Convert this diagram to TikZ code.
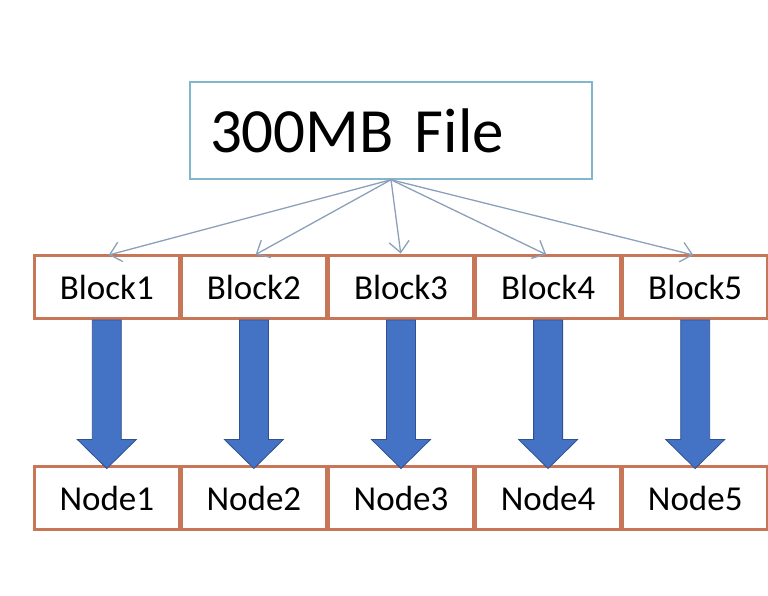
\documentclass[tikz,border=0pt]{standalone}
\usepackage{fontspec}
\setmainfont{Carlito}
\usetikzlibrary{matrix,arrows.meta,calc}

\definecolor{boxorange}{RGB}{200,118,88}
\definecolor{filecyan}{RGB}{130,182,205}
\definecolor{splitgray}{RGB}{140,160,185}
\definecolor{sendblue}{RGB}{68,114,196}
\definecolor{sendedge}{RGB}{47,82,143}

\begin{document}
\begin{tikzpicture}[x=1pt,y=-1pt,
filebox/.style={draw=filecyan, line width=1.5pt, minimum height=97pt, text width=362pt, align=left, inner xsep=20pt, font=\fontsize{63}{63}\selectfont},
splitarrow/.style={-{Straight Barb[length=11pt,width=20pt]}, draw=splitgray, line width=1.3pt, shorten >=2pt},
sendarrow/.style={fill=sendblue, draw=sendedge, line width=0.8pt, line join=miter}]

\useasboundingbox (0,0) rectangle (768,596);

\node[filebox] (file) at (391,130.5) {300MB File};

\matrix (grid) at (401,392.5) [matrix of nodes,%
   column sep=-\pgflinewidth,%
   row sep=145pt,%
   nodes={draw=boxorange, line width=3pt, outer sep=0pt, minimum width=144.5pt,
     minimum height=63pt, anchor=center, font=\fontsize{35}{35}\selectfont}] {
 Block1 & Block2 & Block3 & Block4 & Block5\\
 Node1 & Node2 & Node3 & Node4 & Node5\\
};

\foreach \i in {1,...,5}
  \draw[splitarrow] (file.south) -- (grid-1-\i.north);

\foreach \i in {1,...,5}
  \draw[sendarrow] ($(grid-1-\i.south)+(-14.5,1.5)$) -- ($(grid-2-\i.north)+(-14.5,-27)$)
    -- ++(-15,0) -- ($(grid-2-\i.north)+(0,2)$) -- ++(29.5,-29) -- ++(-15,0)
    -- ($(grid-1-\i.south)+(14.5,1.5)$) -- cycle;

\end{tikzpicture}
\end{document}
